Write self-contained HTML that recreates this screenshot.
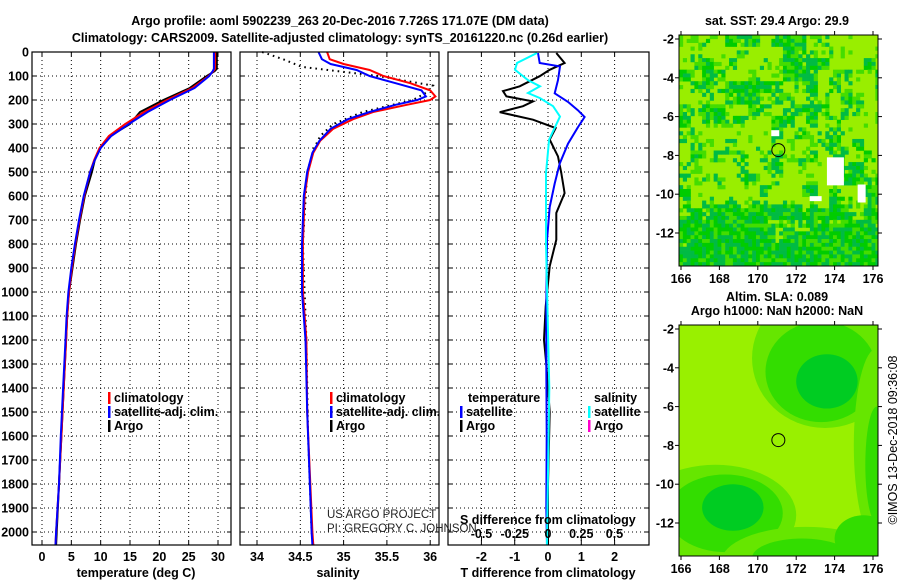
<!DOCTYPE html>
<html><head><meta charset="utf-8">
<style>
html,body{margin:0;padding:0;background:#fff;}
svg{display:block;font-family:"Liberation Sans",Arial,sans-serif;}
.b{font-weight:bold;font-size:12.5px;}
</style></head>
<body>
<svg id="fig" width="900" height="580" viewBox="0 0 900 580" xmlns="http://www.w3.org/2000/svg">
<text class="b" x="340" y="25" text-anchor="middle" font-size="13.5">Argo profile: aoml 5902239_263 20-Dec-2016 7.726S 171.07E (DM data)</text>
<text class="b" x="340" y="42" text-anchor="middle" font-size="13.5">Climatology: CARS2009. Satellite-adjusted climatology: synTS_20161220.nc (0.26d earlier)</text>
<g id="maps"></g>
<g id="plots"></g>
</svg>
<script>
// ---- data ----
const tDepth   = [0,70,80,100,150,200,250,300,350,400,450,500,600,700,800,900,1000,1100,1200,1400,1600,1800,2000,2054];
const tArgo    = [29.8,29.8,29.4,28.1,25.2,20.7,16.7,15.0,11.6,9.9,9.0,8.5,7.3,6.5,5.8,5.2,4.6,4.3,4.1,3.7,3.3,2.9,2.5,2.4];
const tClim    = [29.5,29.5,29.2,28.4,25.6,21.3,17.4,14.2,11.4,9.8,8.9,8.2,7.2,6.4,5.7,5.1,4.6,4.3,4.1,3.7,3.3,2.9,2.4,2.3];
const tSat     = [29.3,29.3,29.1,28.5,26.0,21.8,18.0,14.8,11.8,10.0,9.0,8.2,7.1,6.3,5.6,5.0,4.5,4.2,4.0,3.6,3.2,2.9,2.4,2.3];

const sDepth   = [0,30,50,75,100,130,160,185,200,220,250,280,320,370,420,500,600,800,1000,1200,1500,2000,2054];
const sClim    = [34.81,34.84,35.0,35.3,35.46,35.77,36.0,36.06,36.0,35.73,35.34,35.11,34.88,34.73,34.65,34.59,34.55,34.53,34.53,34.57,34.58,34.64,34.65];
const sSat     = [34.71,34.75,34.85,35.15,35.3,35.6,35.9,35.95,35.85,35.6,35.3,35.05,34.85,34.72,34.64,34.58,34.54,34.52,34.52,34.56,34.58,34.63,34.64];
const sArgoDepth = [0,30,62,100,140,170,200,250,300,350,400,500,800,1200,1600,2000,2054];
const sArgo      = [34.06,34.3,34.52,35.4,36.03,35.95,35.8,35.22,34.88,34.73,34.66,34.58,34.53,34.57,34.59,34.63,34.65];

const dDepthSat = [4,46,60,117,172,208,243,271,313,382,465,548,646,785,1063,1300,1600,1900,2054];
const dTSat     = [-0.3,-0.25,0.36,0.3,0.2,0.6,0.9,1.1,0.9,0.6,0.35,0.2,0.05,-0.03,-0.05,-0.05,-0.04,-0.05,-0.03];
const dDepthArgo= [4,46,74,101,143,163,185,206,226,251,282,317,365,435,504,588,671,782,893,1060,1200,1300,1500,1800,2054];
const dTArgo    = [0.25,0.5,0.05,-0.25,-0.85,-1.35,-1.25,-0.45,-0.75,-1.45,-0.45,0.23,0.05,0.3,0.4,0.5,0.25,0.25,0.05,-0.07,-0.12,-0.05,0.05,0.0,0.0];
const dDepthS   = [4,46,74,117,143,171,192,226,269,365,504,800,1400,2054];
const dSSat     = [-0.083,-0.233,-0.248,-0.15,-0.06,-0.15,-0.06,0.038,0.09,0.008,-0.015,-0.015,0.01,-0.008];

const depthTicks = [0,100,200,300,400,500,600,700,800,900,1000,1100,1200,1300,1400,1500,1600,1700,1800,1900,2000];
const tTicks = [0,5,10,15,20,25,30];
const sTicks = [34,34.5,35,35.5,36];
const sTickLabels = ["34","34.5","35","35.5","36"];
const dTTicks = [-2,-1,0,1,2];
const dSTicks = [-0.5,-0.25,0,0.25,0.5];
const lonTicks = [166,168,170,172,174,176];
const latTicks = [-2,-4,-6,-8,-10,-12];

// ---- scales ----
const Y0=52, YB=545;
const y = d => Y0 + d*0.24;
const tx = t => 42 + t*5.867;
const sx = s => 257 + (s-34)*86.6;
const dtx = v => 548 + v*33.3;
const dsx = v => 548 + v*133;
const P = [{x0:32,x1:231},{x0:240,x1:439},{x0:448,x1:649}];

const NS="http://www.w3.org/2000/svg";
const plots=document.getElementById('plots');
const maps=document.getElementById('maps');
function mk(tag,attrs,parent){const e=document.createElementNS(NS,tag);for(const k in attrs)e.setAttribute(k,attrs[k]);(parent||plots).appendChild(e);return e;}
function txt(s,attrs,parent){const e=mk('text',attrs,parent);e.textContent=s;return e;}

P.forEach((p,i)=>{
  const g=mk('g',{});
  
  
  depthTicks.forEach(d=>{
    const l=mk('line',{x1:p.x0,x2:p.x1,y1:y(d),y2:y(d),stroke:'#000','stroke-width':1,'stroke-dasharray':'1 3'},g);
    
    
    mk('line',{x1:p.x0,x2:p.x0+4,y1:y(d),y2:y(d),stroke:'#000'},g);
    mk('line',{x1:p.x1-4,x2:p.x1,y1:y(d),y2:y(d),stroke:'#000'},g);
  });
});
function vgrid(vals,f){
  vals.forEach(v=>{
    const l=mk('line',{x1:f(v),x2:f(v),y1:Y0,y2:YB,stroke:'#000','stroke-dasharray':'1 3'});
    
    
    mk('line',{x1:f(v),x2:f(v),y1:YB,y2:YB-4,stroke:'#000'});
    mk('line',{x1:f(v),x2:f(v),y1:Y0,y2:Y0+4,stroke:'#000'});
  });
}
vgrid(tTicks,tx); vgrid(sTicks,sx); vgrid(dTTicks,dtx);
dSTicks.forEach(v=>{mk('line',{x1:dsx(v),x2:dsx(v),y1:YB-8,y2:YB-4,stroke:'#000'});});

depthTicks.forEach(d=>{
  const t=txt(String(d),{x:29,y:y(d)+4.5,'text-anchor':'end',class:'b'});
  
  
});
tTicks.forEach(v=>{const t=txt(String(v),{x:tx(v),y:561,'text-anchor':'middle',class:'b'});
  
  });
sTicks.forEach((v,i)=>{const t=txt(sTickLabels[i],{x:sx(v),y:561,'text-anchor':'middle',class:'b'});
  
  });
dTTicks.forEach(v=>{const t=txt(String(v),{x:dtx(v),y:561,'text-anchor':'middle',class:'b'});
  
  });
[['temperature (deg C)',136,'x-axis-title-temperature'],['salinity',338,'x-axis-title-salinity'],['T difference from climatology',548,'x-axis-title-t-diff']].forEach(a=>{
  const t=txt(a[0],{x:a[1],y:577,'text-anchor':'middle',class:'b'});
  
  
});

function line(xs,ds,f,color,name,dash){
  const pts=xs.map((v,i)=>f(v).toFixed(1)+','+y(ds[i]).toFixed(1)).join(' ');
  const a={points:pts,fill:'none',stroke:color,'stroke-width':2};
  if(dash){a['stroke-dasharray']='1.6 4';}
  const e=mk('polyline',a);
  
  
  return e;
}
line(tArgo,tDepth,tx,'#000','temperature-argo-line');
line(tClim,tDepth,tx,'#f00','temperature-climatology-line');
line(tSat,tDepth,tx,'#00f','temperature-satellite-line');
line(sArgo,sArgoDepth,sx,'#000','salinity-argo-line',true);
line(sClim,sDepth,sx,'#f00','salinity-climatology-line');
line(sSat,sDepth,sx,'#00f','salinity-satellite-line');
line(dTArgo,dDepthArgo,dtx,'#000','t-diff-argo-line');
line(dTSat,dDepthSat,dtx,'#00f','t-diff-satellite-line');
line(dSSat,dDepthS,dsx,'#0ff','s-diff-satellite-line');

P.forEach(p=>{const r=mk('rect',{x:p.x0,y:Y0,width:p.x1-p.x0,height:YB-Y0,fill:'none',stroke:'#000','stroke-width':1.2});
  
  });

function leg(x,yy,color,label,name){
  mk('rect',{x:x,y:yy-10,width:2.5,height:12,fill:color});
  const t=txt(label,{x:x+6,y:yy,class:'b'});
  
  
}
leg(108,402,'#f00','climatology','legend-climatology');
leg(108,416,'#00f','satellite-adj. clim.','legend-satellite-adj');
leg(108,430,'#000','Argo','legend-argo');
leg(330,402,'#f00','climatology','legend-sal-climatology');
leg(330,416,'#00f','satellite-adj. clim.','legend-sal-satellite-adj');
leg(330,430,'#000','Argo','legend-sal-argo');
(function(){const t=txt('temperature',{x:468,y:402,class:'b'});
const s=txt('salinity',{x:594,y:402,class:'b'});})();
leg(460,416,'#00f','satellite','legend-diff-t-satellite');
leg(460,430,'#000','Argo','legend-diff-t-argo');
leg(588,416,'#0ff','satellite','legend-diff-s-satellite');
leg(588,430,'#f0c','Argo','legend-diff-s-argo');

(function(){
const a=txt('US ARGO PROJECT',{x:327,y:518,'font-size':11.5,fill:'#222'});
const b=txt('PI: GREGORY C. JOHNSON',{x:327,y:532,'font-size':11.5,fill:'#222'});
const c=txt('S difference from climatology',{x:460,y:524,class:'b'});
})();
dSTicks.forEach(v=>{const t=txt(String(v),{x:dsx(v),y:538,'text-anchor':'middle',class:'b'});
  
  });

// ---- maps ----
const MX0=679, MX1=878;
const lonx = lo => 681 + (lo-166)*19.2;
function hsh(i,j,s){let h=(i*374761393+j*668265263+s*1442695041)>>>0;h=((h^(h>>>13))*1274126177)>>>0;return ((h^(h>>>16))>>>0)%1000/1000;}
function drawMap(top,bottomY,kind){
  const laty = la => top + 4 + (-2-la)*19.4;
  const g=mk('g',{},maps);
  
  
  const cid='clip'+kind;
  const cp=mk('clipPath',{id:cid},g); mk('rect',{x:MX0,y:top,width:MX1-MX0,height:bottomY-top},cp);
  const inner=mk('g',{'clip-path':'url(#'+cid+')'},g);
  if(kind==='sst'){
    mk('rect',{x:MX0,y:top,width:MX1-MX0,height:bottomY-top,fill:'#99ee00'},inner);
    const cs=3.85;
    for(let j=0;j*cs<bottomY-top;j++){for(let i=0;i*cs<MX1-MX0;i++){
      const fy=j*cs/(bottomY-top), fx=i*cs/(MX1-MX0);
      const coarse=hsh(Math.floor(i/3),Math.floor(j/3),1);
      const fine=hsh(i,j,2);
      let lime = fy<0.68 ? 0.5 : 0.5-(fy-0.68)*1.9;
      if(fy>0.38&&fy<0.72&&fx>0.1&&fx<0.8) lime+=0.15;
      const v=0.6*coarse+0.4*fine;
      let c;
      if(v<lime) c='#99ee00';
      else if(fine<0.4) c='#00cc00';
      else if(fine<0.75) c='#00bb44';
      else c='#44dd00';
      if(c!=='#99ee00') mk('rect',{x:MX0+i*cs,y:top+j*cs,width:cs+0.3,height:cs+0.3,fill:c},inner);
    }}
    [[lonx(173.6),laty(-8.1),17,28],[lonx(175.2),laty(-9.5),8,18],[lonx(172.7),laty(-10.1),12,5],[lonx(170.7),laty(-6.7),8,6]].forEach(r=>mk('rect',{x:r[0],y:r[1],width:r[2],height:r[3],fill:'#fff'},inner));
  } else {
    mk('rect',{x:MX0,y:top,width:MX1-MX0,height:bottomY-top,fill:'#99f000'},inner);
    const blobs=[[173.5,-3.5,3.8,3.6,'#66e600'],[173.3,-4.2,2.9,2.6,'#33dd00'],[173.6,-4.7,1.6,1.4,'#00cc22'],
      [167.8,-11.6,4.2,2.6,'#66e600'],[168.3,-11.5,3.0,2.0,'#33dd00'],[168.7,-11.2,1.6,1.2,'#00cc22'],
      [172.5,-14.0,4.4,1.8,'#66e600'],[172.3,-13.8,2.6,1.0,'#33dd00'],[176.2,-8,1.2,5,'#66e600'],[176.2,-9,0.6,3,'#33dd00'],
      [175.5,-12.8,1.5,1.2,'#33dd00']];
    blobs.forEach(b=>mk('ellipse',{cx:lonx(b[0]),cy:laty(b[1]),rx:b[2]*19.2,ry:b[3]*19.4,fill:b[4]},inner));
  }
  mk('circle',{cx:lonx(171.07),cy:laty(-7.726),r:6.5,fill:'none',stroke:'#000','stroke-width':1},g);
  mk('rect',{x:MX0,y:top,width:MX1-MX0,height:bottomY-top,fill:'none',stroke:'#000','stroke-width':1},g);
  latTicks.forEach(la=>{mk('line',{x1:MX0-4,x2:MX0,y1:laty(la),y2:laty(la),stroke:'#000'},g);
    mk('line',{x1:MX1,x2:MX1+4,y1:laty(la),y2:laty(la),stroke:'#000'},g);
    const t=txt(String(la),{x:MX0-5,y:laty(la)+4.5,'text-anchor':'end',class:'b'},g);
    
    });
  lonTicks.forEach(lo=>{mk('line',{x1:lonx(lo),x2:lonx(lo),y1:bottomY,y2:bottomY+4,stroke:'#000'},g);
    mk('line',{x1:lonx(lo),x2:lonx(lo),y1:top,y2:top-4,stroke:'#000'},g);
    const t=txt(String(lo),{x:lonx(lo),y:bottomY+17,'text-anchor':'middle',class:'b'},g);
    
    });
}
drawMap(35,266,'sst');
drawMap(325,556,'sla');
(function(){
const a=txt('sat. SST: 29.4 Argo: 29.9',{x:777,y:25,'text-anchor':'middle',class:'b'},maps);
const b=txt('Altim. SLA: 0.089',{x:777,y:301,'text-anchor':'middle',class:'b'},maps);
const c=txt('Argo h1000: NaN h2000: NaN',{x:777,y:315,'text-anchor':'middle',class:'b'},maps);
const d=txt('©IMOS 13-Dec-2018 09:36:08',{x:0,y:0,'text-anchor':'middle','font-size':12.5,transform:'translate(897,440) rotate(-90)'},maps);
})();
</script>
</body></html>
